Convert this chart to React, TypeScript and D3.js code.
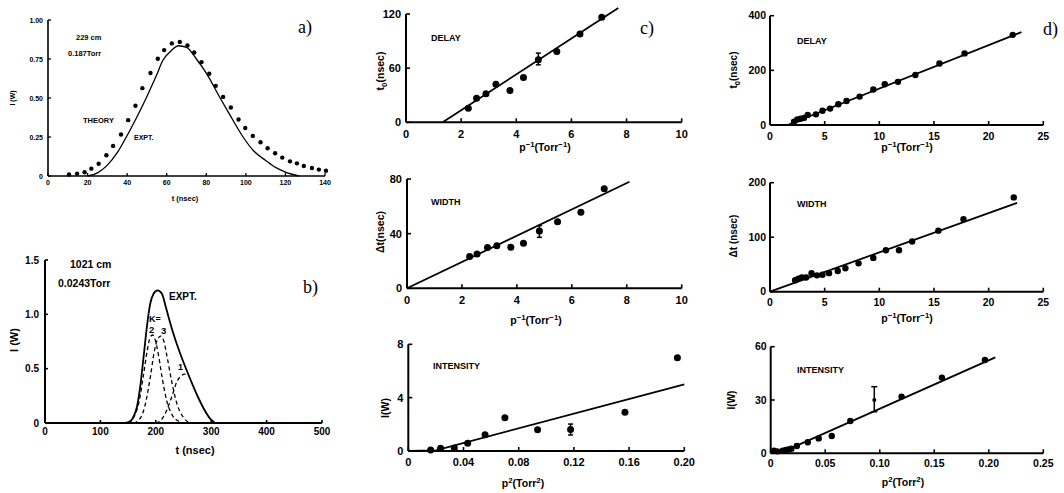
import React from 'react';
import * as d3 from 'd3';

// ---------- Panel a data ----------
const aDotT = [10.6,14.7,18.5,21.9,25.6,29.5,32.9,36.9,40.5,44.2,47.7,51.8,55.5,58.7,62.6,66.6,70.5,73.9,77.6,81.5,84.8,88.5,92.4,96.3,99.7,103.5,107.4,111.0,114.8,118.4,122.3,125.8,129.3,133.4,136.9,140.5];
const aDotI = [0.01,0.015,0.024,0.047,0.079,0.133,0.193,0.266,0.358,0.45,0.563,0.66,0.752,0.807,0.85,0.859,0.837,0.792,0.73,0.655,0.578,0.507,0.439,0.362,0.308,0.257,0.216,0.178,0.146,0.118,0.094,0.081,0.064,0.051,0.041,0.034];
const aCurveT = [20,25,30,35,40,45,50,55,58,62,66,70,75,80,87,92,98.6,104,110,115,120,127];
const aCurveI = [0,0.02,0.07,0.15,0.26,0.38,0.51,0.65,0.74,0.80,0.835,0.825,0.75,0.66,0.5,0.39,0.25,0.16,0.1,0.055,0.025,0];
const aXTicks = [0,20,40,60,80,100,120,140];
const aYTicks = [0,0.25,0.5,0.75,1.0];
const aYLabels = ['0','0.25','0.50','0.75','1.00'];

// ---------- Panel b data ----------
const bExpT = [145,155,160,166,172,178,184,190,196,203,211,218,226,235,244,253,265,277,289,298,307];
const bExpI = [0,0.02,0.06,0.15,0.34,0.61,0.89,1.1,1.19,1.22,1.19,1.07,0.92,0.77,0.64,0.52,0.37,0.23,0.11,0.04,0];
const bK2T = [150,160,170,178,185,190,194,198,205,212,220,230,240,248];
const bK2I = [0,0.05,0.2,0.45,0.68,0.79,0.81,0.78,0.62,0.4,0.2,0.07,0.02,0];
const bK3T = [160,170,180,190,197,203,209,214,220,228,238,250,262];
const bK3I = [0,0.03,0.15,0.42,0.65,0.77,0.80,0.76,0.62,0.4,0.18,0.05,0];
const bK1T = [200,210,220,230,238,245,252,260];
const bK1I = [0,0.03,0.12,0.26,0.38,0.43,0.45,0.45];
const bXTicks = [0,100,200,300,400,500];
const bYTicks = [0,0.5,1.0,1.5];
const bYLabels = ['0','0.5','1.0','1.5'];

// ---------- Panel c data ----------
const cDelayX = [2.26,2.56,2.90,3.26,3.77,4.26,4.80,5.47,6.31,7.10];
const cDelayY = [15.6,26.7,31.5,42.2,35.2,49.6,69.3,78.5,97.8,116.3];
const cDelayFitX = [1.33,7.70];
const cDelayFitY = [0,126.7];
const cDelayErr = [4.80,63.7,76.7];
const cWidthX = [2.28,2.55,2.93,3.27,3.78,4.24,4.82,5.48,6.33,7.18];
const cWidthY = [23.2,25.1,29.8,31.2,30,32.9,42,48.8,55.6,72.9];
const cWidthFitX = [0,8.1];
const cWidthFitY = [0,78];
const cWidthErr = [4.82,37.3,45.9];
const cIntX = [0.0162,0.0234,0.0333,0.043,0.0556,0.070,0.0937,0.1176,0.157,0.195];
const cIntY = [0.075,0.2,0.22,0.58,1.22,2.5,1.6,1.62,2.9,7.0];
const cIntFitX = [0,0.02,0.2];
const cIntFitY = [0,0.05,5.0];
const cIntErr = [0.1176,1.2,2.02];
const cPTicks = [0,2,4,6,8,10];
const cP2Ticks = [0,0.04,0.08,0.12,0.16,0.20];
const cP2Labels = ['0','0.04','0.08','0.12','0.16','0.20'];

// ---------- Panel d data ----------
const dDelayX = [2.2,2.5,2.8,3.1,3.45,4.2,4.8,5.5,6.25,7.0,8.2,9.45,10.5,11.7,13.3,15.5,17.8,22.2];
const dDelayY = [12,20,23,26,37,39,52,60,76,88,104,130,149,158,183,225,262,330];
const dDelayFitX = [1.6,23];
const dDelayFitY = [0,340];
const dWidthX = [2.3,2.6,2.9,3.3,3.8,4.3,4.8,5.4,6.2,6.9,8.1,9.45,10.6,11.8,13.0,15.4,17.7,22.3];
const dWidthY = [21,24,26,26,34,30,31,34,38,43,52,62,76,76,92,112,133,173];
const dWidthFitX = [0,22.6];
const dWidthFitY = [0,163];
const dIntX = [0.003,0.006,0.011,0.014,0.0165,0.019,0.024,0.034,0.044,0.056,0.073,0.12,0.157,0.1965];
const dIntY = [1.5,1.1,1.5,1.9,2.2,2.6,4.1,6.2,8.4,9.75,18.2,31.9,42.6,52.5];
const dIntSmallX = [0.095];
const dIntSmallY = [30];
const dIntFitX = [0.01,0.206];
const dIntFitY = [0.5,54];
const dIntErr = [0.095,23.4,37.5];
const dPTicks = [0,5,10,15,20,25];
const dP2Ticks = [0,0.05,0.10,0.15,0.20,0.25];
const dP2Labels = ['0','0.05','0.10','0.15','0.20','0.25'];

const SANS = '"Liberation Sans", Arial, sans-serif';
const SERIF = '"Liberation Serif", "Times New Roman", serif';

type Frame = {
  px: [number, number]; py: [number, number];
  xd: [number, number]; yd: [number, number];
  xTicks: number[]; yTicks: number[];
  xLabels?: string[]; yLabels?: string[];
  fs: number; sw: number; tl: number;
  xLabOff: number; yLabOff: number;
};

function Axes({ f }: { f: Frame }) {
  const x = d3.scaleLinear().domain(f.xd).range(f.px);
  const y = d3.scaleLinear().domain(f.yd).range(f.py);
  const x0 = f.px[0], y0 = f.py[0];
  return (
    <g>
      <line x1={x0} y1={y0} x2={f.px[1]} y2={y0} stroke="#000" strokeWidth={f.sw} />
      <line x1={x0} y1={y0} x2={x0} y2={f.py[1]} stroke="#000" strokeWidth={f.sw} />
      {f.xTicks.map((t, i) => (
        <g key={'x' + i}>
          <line x1={x(t)} x2={x(t)} y1={y0} y2={y0 - f.tl} stroke="#000" strokeWidth={f.sw * 0.8} />
          <text x={x(t)} y={y0 + f.xLabOff} textAnchor="middle" fontSize={f.fs} fontFamily={SANS} fontWeight="bold">
            {f.xLabels ? f.xLabels[i] : String(t)}
          </text>
        </g>
      ))}
      {f.yTicks.map((t, i) => (
        <g key={'y' + i}>
          <line x1={x0} x2={x0 + f.tl} y1={y(t)} y2={y(t)} stroke="#000" strokeWidth={f.sw * 0.8} />
          <text x={x0 - f.yLabOff} y={y(t) + f.fs * 0.36} textAnchor="end" fontSize={f.fs} fontFamily={SANS} fontWeight="bold">
            {f.yLabels ? f.yLabels[i] : String(t)}
          </text>
        </g>
      ))}
    </g>
  );
}

function scales(f: Frame) {
  return {
    x: d3.scaleLinear().domain(f.xd).range(f.px),
    y: d3.scaleLinear().domain(f.yd).range(f.py),
  };
}

function Dots({ f, xs, ys, r }: { f: Frame; xs: number[]; ys: number[]; r: number }) {
  const { x, y } = scales(f);
  return <g>{xs.map((v, i) => <circle key={i} cx={x(v)} cy={y(ys[i])} r={r} fill="#000" />)}</g>;
}

function Curve({ f, xs, ys, sw, dash, smooth }: { f: Frame; xs: number[]; ys: number[]; sw: number; dash?: string; smooth?: boolean }) {
  const { x, y } = scales(f);
  const gen = d3.line<number>().x((_, i) => x(xs[i])).y((v) => y(v));
  if (smooth) gen.curve(d3.curveMonotoneX);
  return <path d={gen(ys) || ''} fill="none" stroke="#000" strokeWidth={sw} strokeDasharray={dash} />;
}

function ErrBar({ f, e, cap, sw }: { f: Frame; e: number[]; cap: number; sw: number }) {
  const { x, y } = scales(f);
  const cx = x(e[0]);
  return (
    <g stroke="#000" strokeWidth={sw}>
      <line x1={cx} x2={cx} y1={y(e[1])} y2={y(e[2])} />
      <line x1={cx - cap} x2={cx + cap} y1={y(e[1])} y2={y(e[1])} />
      <line x1={cx - cap} x2={cx + cap} y1={y(e[2])} y2={y(e[2])} />
    </g>
  );
}

const T = (props: any) => <text fontFamily={SANS} fontWeight="bold" {...props} />;

function PTitle({ x, y, fs }: { x: number; y: number; fs: number }) {
  return (
    <T x={x} y={y} fontSize={fs} textAnchor="middle">
      p<tspan dy={-fs * 0.4} fontSize={fs * 0.75}>−1</tspan>
      <tspan dy={fs * 0.4}>(Torr</tspan>
      <tspan dy={-fs * 0.4} fontSize={fs * 0.75}>−1</tspan>
      <tspan dy={fs * 0.4}>)</tspan>
    </T>
  );
}
function P2Title({ x, y, fs }: { x: number; y: number; fs: number }) {
  return (
    <T x={x} y={y} fontSize={fs} textAnchor="middle">
      p<tspan dy={-fs * 0.4} fontSize={fs * 0.75}>2</tspan>
      <tspan dy={fs * 0.4}>(Torr</tspan>
      <tspan dy={-fs * 0.4} fontSize={fs * 0.75}>2</tspan>
      <tspan dy={fs * 0.4}>)</tspan>
    </T>
  );
}
function YTitle({ x, y, fs, children }: { x: number; y: number; fs: number; children: any }) {
  return (
    <T transform={`translate(${x},${y}) rotate(-90)`} fontSize={fs} textAnchor="middle">{children}</T>
  );
}
function T0({ fs }: { fs: number }) {
  return (<>t<tspan dy={fs * 0.3} fontSize={fs * 0.75}>0</tspan><tspan dy={-fs * 0.3}>(nsec)</tspan></>);
}

const fa: Frame = { px: [48, 325], py: [176, 20], xd: [0, 140], yd: [0, 1], xTicks: aXTicks, yTicks: aYTicks, yLabels: aYLabels, fs: 7, sw: 1.6, tl: 3, xLabOff: 8.5, yLabOff: 5 };
const fb: Frame = { px: [45, 322], py: [423, 260], xd: [0, 500], yd: [0, 1.5], xTicks: bXTicks, yTicks: bYTicks, yLabels: bYLabels, fs: 10, sw: 2, tl: 3, xLabOff: 12, yLabOff: 6 };
const fc1: Frame = { px: [406, 681.7], py: [122.3, 14], xd: [0, 10], yd: [0, 120], xTicks: cPTicks, yTicks: [0, 60, 120], fs: 11, sw: 2, tl: 4, xLabOff: 15.5, yLabOff: 5 };
const fc2: Frame = { px: [407, 681.7], py: [288.3, 179], xd: [0, 10], yd: [0, 80], xTicks: cPTicks, yTicks: [0, 40, 80], fs: 11, sw: 2, tl: 4, xLabOff: 15.5, yLabOff: 5 };
const fc3: Frame = { px: [408.3, 684.3], py: [451, 344.3], xd: [0, 0.2], yd: [0, 8], xTicks: cP2Ticks, xLabels: cP2Labels, yTicks: [0, 4, 8], fs: 11, sw: 2, tl: 4, xLabOff: 14.5, yLabOff: 5 };
const fd1: Frame = { px: [770, 1043.3], py: [125, 15.7], xd: [0, 25], yd: [0, 400], xTicks: dPTicks, yTicks: [0, 200, 400], fs: 10.5, sw: 2, tl: 4, xLabOff: 14.5, yLabOff: 4 };
const fd2: Frame = { px: [770, 1043.3], py: [291.7, 182.7], xd: [0, 25], yd: [0, 200], xTicks: dPTicks, yTicks: [0, 100, 200], fs: 10.5, sw: 2, tl: 4, xLabOff: 14.5, yLabOff: 4 };
const fd3: Frame = { px: [770.7, 1043.3], py: [453.3, 346.7], xd: [0, 0.25], yd: [0, 60], xTicks: dP2Ticks, xLabels: dP2Labels, yTicks: [0, 30, 60], fs: 10.5, sw: 2, tl: 4, xLabOff: 14, yLabOff: 4 };

export default function App() {
  return (
    <svg width={1064} height={493} style={{ position: 'absolute', left: 0, top: 0, background: '#fff' }}>
      <rect x={0} y={0} width={1064} height={493} fill="#fff" />
      {/* Panel a */}
      <Axes f={fa} />
      <Curve f={fa} xs={aCurveT} ys={aCurveI} sw={1.3} smooth />
      <Dots f={fa} xs={aDotT} ys={aDotI} r={2.2} />
      <T x={185} y={201} fontSize={7.5} textAnchor="middle">t (nsec)</T>
      <YTitle x={15} y={98} fs={7}>I (W)</YTitle>
      <T x={76} y={40} fontSize={7.5}>229 cm</T>
      <T x={68} y={56} fontSize={7.5}>0.187Torr</T>
      <T x={83} y={123} fontSize={7.5}>THEORY</T>
      <T x={134} y={140} fontSize={7}>EXPT.</T>
      <text x={298} y={33} fontFamily={SERIF} fontSize={18}>a)</text>

      {/* Panel b */}
      <Axes f={fb} />
      <Curve f={fb} xs={bExpT} ys={bExpI} sw={1.8} smooth />
      <Curve f={fb} xs={bK2T} ys={bK2I} sw={1.3} dash="4,3" smooth />
      <Curve f={fb} xs={bK3T} ys={bK3I} sw={1.3} dash="4,3" smooth />
      <Curve f={fb} xs={bK1T} ys={bK1I} sw={1.3} dash="4,3" smooth />
      <T x={195} y={454} fontSize={11} textAnchor="middle">t (nsec)</T>
      <YTitle x={18} y={340} fs={11}>I (W)</YTitle>
      <T x={70} y={268} fontSize={10.5}>1021 cm</T>
      <T x={58} y={287} fontSize={10.5}>0.0243Torr</T>
      <T x={169} y={300} fontSize={10}>EXPT.</T>
      <T x={149} y={322} fontSize={9}>K=</T>
      <T x={149} y={333} fontSize={9.5}>2</T>
      <T x={161} y={334} fontSize={9.5}>3</T>
      <T x={178} y={370} fontSize={9}>1</T>
      <text x={303} y={293} fontFamily={SERIF} fontSize={18}>b)</text>

      {/* Panel c */}
      <Axes f={fc1} />
      <Curve f={fc1} xs={cDelayFitX} ys={cDelayFitY} sw={1.8} />
      <Dots f={fc1} xs={cDelayX} ys={cDelayY} r={3.5} />
      <ErrBar f={fc1} e={cDelayErr} cap={2.5} sw={1.5} />
      <T x={431} y={41} fontSize={9}>DELAY</T>
      <PTitle x={545} y={151} fs={10.5} />
      <YTitle x={384} y={71} fs={10.5}><T0 fs={10.5} /></YTitle>
      <text x={640} y={34} fontFamily={SERIF} fontSize={18}>c)</text>

      <Axes f={fc2} />
      <Curve f={fc2} xs={cWidthFitX} ys={cWidthFitY} sw={1.8} />
      <Dots f={fc2} xs={cWidthX} ys={cWidthY} r={3.5} />
      <ErrBar f={fc2} e={cWidthErr} cap={2.5} sw={1.5} />
      <T x={431} y={205} fontSize={9}>WIDTH</T>
      <PTitle x={536} y={324} fs={10.5} />
      <YTitle x={384} y={232} fs={10.5}>Δt(nsec)</YTitle>

      <Axes f={fc3} />
      <Curve f={fc3} xs={cIntFitX} ys={cIntFitY} sw={1.8} />
      <Dots f={fc3} xs={cIntX} ys={cIntY} r={3.5} />
      <ErrBar f={fc3} e={cIntErr} cap={2.5} sw={1.5} />
      <T x={433} y={369} fontSize={9}>INTENSITY</T>
      <P2Title x={523} y={487} fs={10.5} />
      <YTitle x={389} y={408} fs={10.5}>I(W)</YTitle>

      {/* Panel d */}
      <Axes f={fd1} />
      <Curve f={fd1} xs={dDelayFitX} ys={dDelayFitY} sw={1.8} />
      <Dots f={fd1} xs={dDelayX} ys={dDelayY} r={3.2} />
      <T x={797} y={44} fontSize={9}>DELAY</T>
      <PTitle x={907} y={151} fs={10.5} />
      <YTitle x={737} y={70} fs={10}><T0 fs={10} /></YTitle>
      <text x={1043} y={35} fontFamily={SERIF} fontSize={18}>d)</text>

      <Axes f={fd2} />
      <Curve f={fd2} xs={dWidthFitX} ys={dWidthFitY} sw={1.8} />
      <Dots f={fd2} xs={dWidthX} ys={dWidthY} r={3.2} />
      <T x={797} y={207} fontSize={9}>WIDTH</T>
      <PTitle x={907} y={322} fs={10.5} />
      <YTitle x={737} y={236} fs={10}>Δt (nsec)</YTitle>

      <Axes f={fd3} />
      <Curve f={fd3} xs={dIntFitX} ys={dIntFitY} sw={1.8} />
      <Dots f={fd3} xs={dIntX} ys={dIntY} r={3.2} />
      <Dots f={fd3} xs={dIntSmallX} ys={dIntSmallY} r={2} />
      <ErrBar f={fd3} e={dIntErr} cap={3} sw={1.5} />
      <T x={797} y={373} fontSize={9}>INTENSITY</T>
      <P2Title x={903} y={486} fs={10.5} />
      <YTitle x={735} y={400} fs={10}>I(W)</YTitle>
    </svg>
  );
}
